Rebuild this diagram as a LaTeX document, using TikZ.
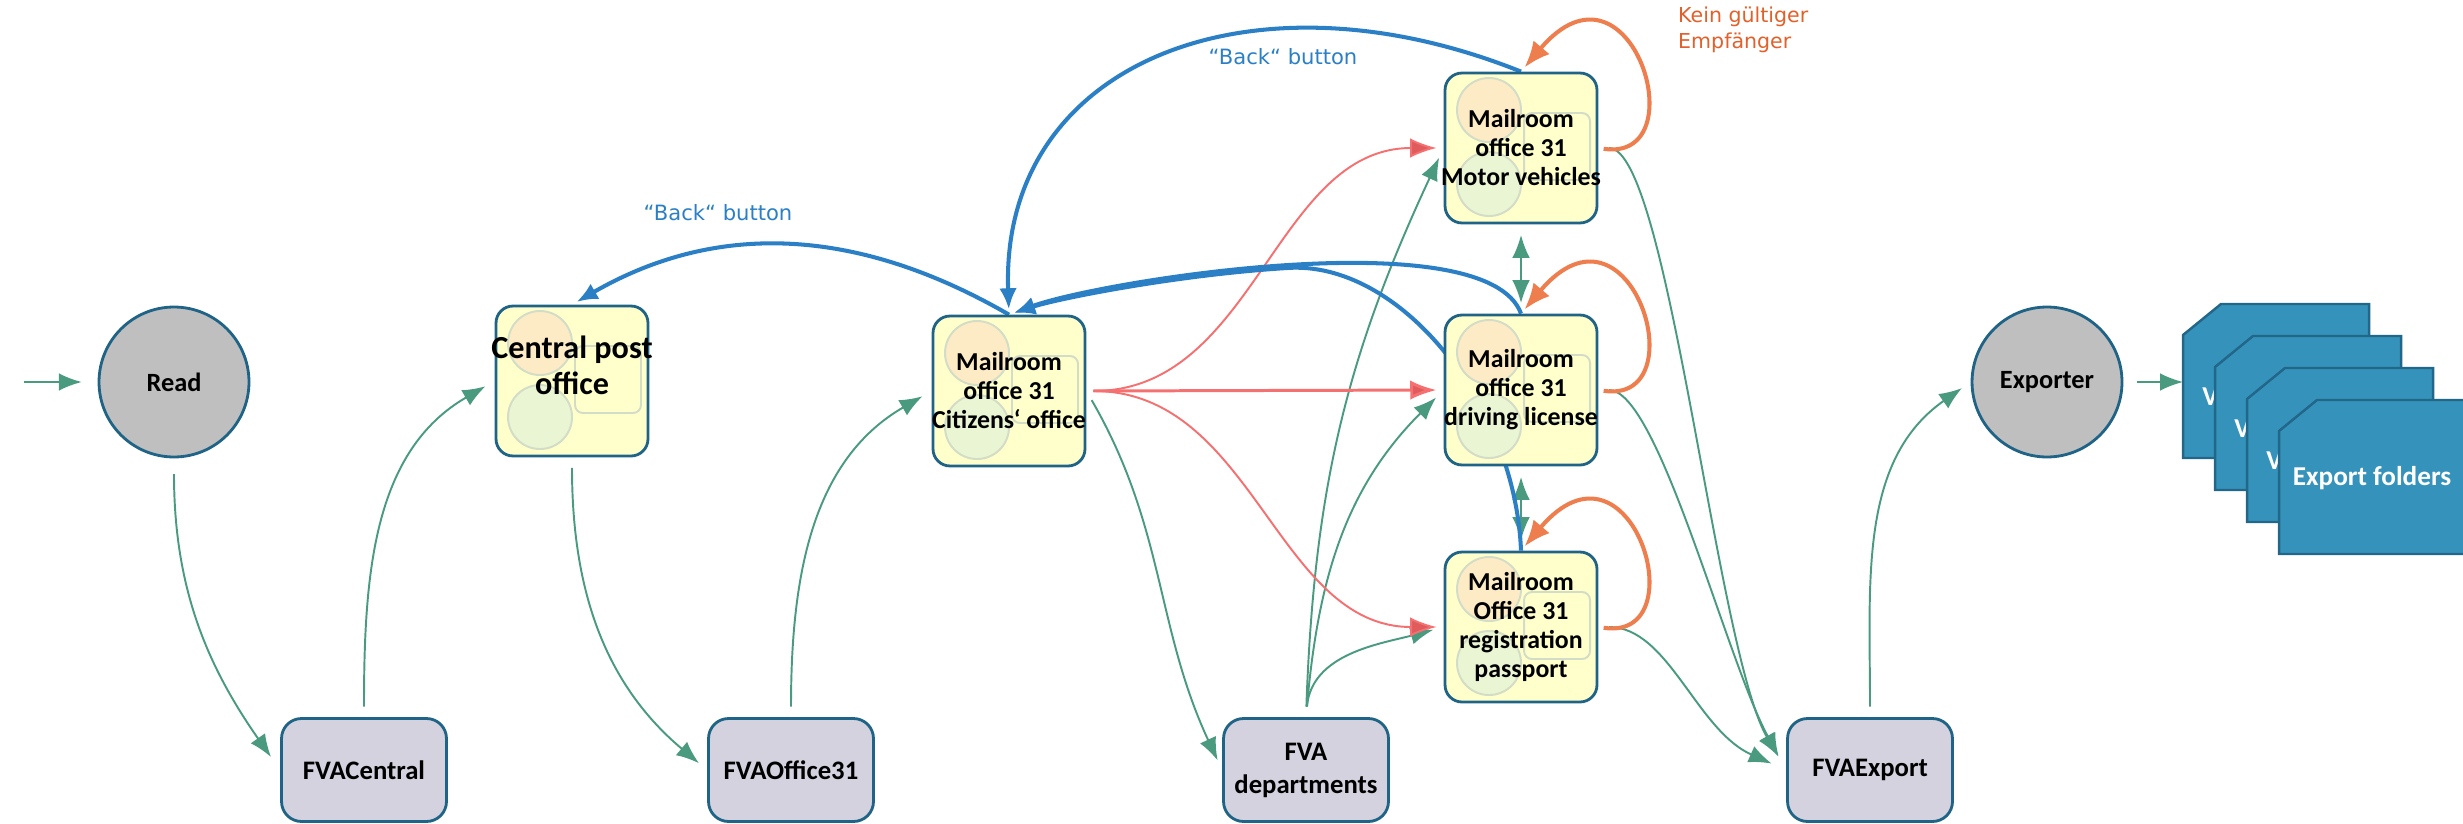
\documentclass[tikz,border=0pt]{standalone}
\usepackage{fontspec}
\setmainfont{Carlito}
\newfontfamily\labelfont{DejaVu Sans}
\usetikzlibrary{arrows.meta}
\definecolor{edgeblue}{HTML}{1F6386}
\definecolor{boxyellow}{HTML}{FFFFCC}
\definecolor{fvagray}{HTML}{D3D2DE}
\definecolor{circgray}{HTML}{BFBFBF}
\definecolor{flowgreen}{HTML}{4A9A80}
\definecolor{redflow}{HTML}{F57070}
\definecolor{redtip}{HTML}{E05C5C}
\definecolor{backblue}{HTML}{2B7FC5}
\definecolor{loopor}{HTML}{EE7E4E}
\definecolor{keinor}{HTML}{E2602A}
\definecolor{cardblue}{HTML}{3593BB}
\definecolor{cardedge}{HTML}{22678A}
\definecolor{decoorange}{HTML}{FDEBC5}
\definecolor{decogreen}{HTML}{EAF5D4}
\definecolor{decoline}{HTML}{D2DCC6}
\pgfdeclarelayer{bg}
\pgfsetlayers{bg,main}
\begin{document}
\begin{tikzpicture}[x=0.02cm,y=0.02cm,
proc/.style={circle,draw=edgeblue,line width=1.6pt,fill=circgray,minimum size=3cm,inner sep=0pt,font=\bfseries\fontsize{15}{18.8}\selectfont},
fvabox/.style={rectangle,rounded corners=0.4cm,draw=edgeblue,line width=1.6pt,fill=fvagray,minimum width=3.3cm,minimum height=2.06cm,inner sep=0pt,align=center,font=\bfseries\fontsize{15.2}{18.8}\selectfont},
mailbox/.style={rectangle,rounded corners=0.34cm,draw=edgeblue,line width=1.6pt,fill=boxyellow,minimum width=3.04cm,minimum height=3cm,inner xsep=-5pt,inner ysep=0pt,align=center,font=\bfseries\fontsize{14.7}{16.5}\selectfont,
 path picture={
 \draw[decoline,line width=1.1pt,fill=decoorange] ([shift={(44,-37)}]path picture bounding box.north west) circle (32);
 \draw[decoline,line width=1.1pt,fill=decogreen] ([shift={(44,-111)}]path picture bounding box.north west) circle (32);
 \draw[decoline,line width=1.1pt,rounded corners=0.16cm] ([shift={(79,-40)}]path picture bounding box.north west) rectangle ([shift={(145,-107)}]path picture bounding box.north west);
 }},
flow/.style={draw=flowgreen,line width=1.1pt,>={Latex[length=13pt,width=10pt]},->,shorten <=6pt,shorten >=6pt},
wrong/.style={draw=redflow,line width=1.1pt,>={Latex[length=15pt,width=11pt,fill=redtip]},->,shorten <=4pt,shorten >=4pt},
back/.style={draw=backblue,line width=2.3pt,>={Latex[length=12pt,width=10pt]},->,shorten >=3pt},
noaddr/.style={draw=loopor,line width=2.3pt,>={Latex[length=15pt,width=12pt]},->,shorten <=3pt,shorten >=3pt},
note/.style={text=backblue,font=\labelfont\fontsize{12}{14}\selectfont},
card/.style={draw=cardedge,fill=cardblue,line width=1.4pt},
cardtext/.style={text=white,inner sep=0pt,font=\bfseries\fontsize{15.5}{18}\selectfont}]
\useasboundingbox (0,0) rectangle (2463,823);
\coordinate (in) at (13,441);
\node (read) at (174,441) [proc] {Read};
\node (cen) at (572,442) [mailbox,inner xsep=-8pt,text depth=18pt,font=\bfseries\fontsize{18.3}{21}\selectfont] {Central post\\office};
\node (cit) at (1009,432) [mailbox] {Mailroom\\office 31\\Citizens‘ office};
\node (mv) at (1521,675) [mailbox] {Mailroom\\office 31\\Motor vehicles};
\node (dl) at (1521,433) [mailbox] {Mailroom\\office 31\\driving license};
\node (reg) at (1521,196) [mailbox] {Mailroom\\Office 31\\registration\\passport};
\node (fvacen) at (364,53) [fvabox] {FVACentral};
\node (fvaoff) at (791,53) [fvabox] {FVAOffice31};
\node (fvadep) at (1306,53) [fvabox] {FVA\\departments};
\node (fvaexp) at (1870,53) [fvabox] {FVAExport};
\node (exporter) at (2047,441) [proc] {Exporter};
\draw[card] (2183,365) -- (2183,488) -- (2221,519) -- (2369,519) -- (2369,365) -- cycle;
\node (v1) at (2202,426) [anchor=west,cardtext] {V};
\draw[card] (2215,333) -- (2215,456) -- (2253,487) -- (2401,487) -- (2401,333) -- cycle;
\node (v2) at (2234,394) [anchor=west,cardtext] {V};
\draw[card] (2247,301) -- (2247,424) -- (2285,455) -- (2433,455) -- (2433,301) -- cycle;
\node (v3) at (2266,362) [anchor=west,cardtext] {V};
\draw[card] (2279,269) -- (2279,392) -- (2317,423) -- (2465,423) -- (2465,269) -- cycle;
\node (expf) at (2372,345) [cardtext] {Export folders};
\coordinate (fold) at (2183,441);
\node (lab1) at (718,610) [note] {“Back“ button};
\node (lab2) at (1283,766) [note] {“Back“ button};
\node (kein) at (1672,793) [anchor=west,align=left,text=keinor,font=\labelfont\fontsize{11.7}{14.6}\selectfont] {Kein gültiger\\Empfänger};
\begin{pgfonlayer}{bg}
\draw[flow,shorten >=9pt] (in) -- (read);
\draw[flow,shorten <=9pt,shorten >=9pt] (read.south) to[out=-90,in=125] (fvacen.west);
\draw[flow] (fvacen.north) to[out=90,in=210] (cen.west);
\draw[flow] (cen.south) to[out=-90,in=140] (fvaoff.west);
\draw[flow] (fvaoff.north) to[out=90,in=210] (cit.west);
\draw[flow] (cit.east) to[out=-60,in=115] (fvadep.west);
\draw[flow] (fvadep.north) to[out=88,in=245] (mv.west);
\draw[flow] (fvadep.north) to[out=85,in=225] (dl.west);
\draw[flow] (fvadep.north) to[out=85,in=195] (reg.west);
\draw[flow,<->] (mv.south) -- (dl.north);
\draw[flow,<->] (dl.south) -- (reg.north);
\draw[flow,shorten >=9pt] (mv.east) .. controls +(70,0) and +(-70,120) .. (fvaexp.west);
\draw[flow,shorten >=9pt] (dl.east) .. controls +(60,0) and +(-60,110) .. (fvaexp.west);
\draw[flow,shorten >=9pt] (reg.east) .. controls +(70,0) and +(-90,40) .. (fvaexp.west);
\draw[flow] (fvaexp.north) to[out=90,in=215] (exporter.west);
\draw[flow,shorten <=8pt,shorten >=0pt] (exporter.east) -- (fold);
\draw[wrong] (cit.east) to[out=0,in=180] (mv.west);
\draw[wrong,line width=1.7pt] (cit.east) -- (dl.west);
\draw[wrong] (cit.east) to[out=0,in=180] (reg.west);
\draw[back] (cit.north) to[out=150,in=30] (cen.north);
\draw[back] (dl.north) to[out=110,in=20,looseness=0.5] (cit.north);
\draw[back] (reg.north) .. controls (1515,420) and (1399,563) .. (1287,555) .. controls (1175,548) and (1056,524) .. (cit.north);
\draw[back] (mv.north) .. controls (1250,860) and (1000,760) .. (cit.north);
\draw[noaddr] (mv.east) .. controls +(100,-15) and +(110,130) .. (mv.north);
\draw[noaddr] (dl.east) .. controls +(100,-15) and +(110,130) .. (dl.north);
\draw[noaddr] (reg.east) .. controls +(100,-15) and +(110,130) .. (reg.north);
\end{pgfonlayer}
\end{tikzpicture}
\end{document}
